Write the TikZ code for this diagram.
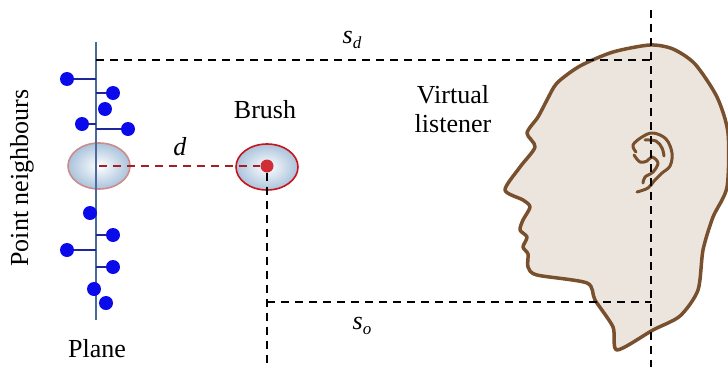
\documentclass[tikz,border=0pt]{standalone}
\usepackage{fontspec}
\setmainfont{Liberation Serif}
\usetikzlibrary{shapes.geometric}

\definecolor{planeblue}{RGB}{74,106,158}
\definecolor{ptblue}{RGB}{10,10,235}
\definecolor{stubblue}{RGB}{30,40,150}
\definecolor{glass}{RGB}{170,195,220}
\definecolor{brushred}{RGB}{200,20,30}
\definecolor{ringpink}{RGB}{205,140,140}
\definecolor{dred}{RGB}{165,30,35}
\definecolor{skin}{RGB}{236,229,222}
\definecolor{hair}{RGB}{120,80,45}

\newcommand{\sublbl}[2]{\textit{#1}\raisebox{-0.4ex}{\fontsize{17}{17}\selectfont\textit{#2}}}

\begin{document}
\begin{tikzpicture}[x=1pt,y=-1pt,semithick,font=\fontsize{26}{29}\selectfont]
    \tikzstyle{pt}=[circle,fill=ptblue,inner sep=0pt,minimum size=14pt]
    \tikzstyle{stub}=[stubblue,line width=1.6pt]
    \tikzstyle{bubble}=[ellipse,minimum width=62pt,minimum height=46pt,inner sep=0pt,
        inner color=white,outer color=glass,line width=1.6pt]
    \tikzstyle{guide}=[black,dashed,line width=1.8pt,dash pattern=on 8pt off 6pt]
    \tikzstyle{earline}=[hair,line width=3pt,line cap=round,line join=round]
    \useasboundingbox (0,0) rectangle (728,367);

    % head of the listener
    \filldraw[fill=skin,draw=hair,line width=3.5pt,line join=round]
        plot[smooth cycle,tension=0.45] coordinates {
        (650,45) (613,52) (580,66) (557,83) (547,100) (538,117) (527,133)
        (535,147) (520,167) (505,190) (523,200) (530,207) (523,220) (520,230)
        (527,237) (523,247) (528,254) (528,267) (537,275) (587,283) (595,300)
        (613,327) (617,350) (653,330) (680,316) (698,290) (703,250) (713,217)
        (727,187) (728,133) (717,97) (695,64) (673,49)};
    % ear
    \draw[earline] plot[smooth,tension=0.6] coordinates {
        (636,152) (633,145) (642,137) (653,133) (666,139) (672,153) (670,166)
        (662,173) (654,181) (648,188) (637,192)};
    \draw[earline] plot[smooth,tension=0.6] coordinates {
        (645,140) (656,141) (662,148) (664,156)};
    \draw[earline] plot[smooth,tension=0.6] coordinates {
        (634,155) (640,162) (647,161) (652,157) (658,163) (653,172) (645,177)
        (643,183)};

    % plane with its neighbours
    \coordinate (pt top) at (96,42);
    \coordinate (pt bot) at (96,320);
    \draw[planeblue,line width=2pt] (pt top) -- (pt bot);
    \foreach \n/\x/\y/\s in {1/67/79/1, 2/113/93/1, 3/105/109/0, 4/82/124/1,
        5/128/129/1, 6/90/213/0, 7/113/235/1, 8/67/250/1, 9/113/267/1,
        10/94/289/0, 11/106/303/0} {
        \node[pt] (p\n) at (\x,\y) {};
        \ifnum\s=1 \draw[stub] (p\n) -- (p\n -| pt top); \fi
    }
    \node[bubble,draw=ringpink] (nb) at (99,166) {};
    \draw[planeblue,line width=2pt] (nb.north -| pt top) -- (nb.south -| pt top);

    % brush
    \node[bubble,draw=brushred] (brush) at (267,167) {};
    \node[circle,fill=brushred!85!pink,inner sep=0pt,minimum size=13pt] (bc) at (267,166) {};
    \draw[dred,dashed,line width=1.8pt,dash pattern=on 8pt off 6pt] (nb.center) -- (bc);

    % distances to the listener
    \coordinate (ear top) at (651,10);
    \coordinate (ear bot) at (651,367);
    \coordinate (sd a) at (96,60);
    \coordinate (brush bot) at (267,367);
    \draw[guide] (sd a) -- (sd a -| ear top);
    \draw[guide] (ear top) -- (ear bot);
    \draw[guide] (bc) -- (brush bot);
    \draw[guide] (bc |- 0,302) -- (ear top |- 0,302);

    % labels
    \node (sd) at (352,40) {\sublbl{s}{d}};
    \node (so) at (362,326) {\sublbl{s}{o}};
    \node (dl) at (180,147) {\textit{d}};
    \node (brushl) at (265,110) {Brush};
    \node[align=center] (vl) at (453,109) {Virtual\\listener};
    \node (planel) at (97,349) {Plane};
    \node[rotate=90] (nbl) at (22,178) {Point neighbours};
\end{tikzpicture}
\end{document}
